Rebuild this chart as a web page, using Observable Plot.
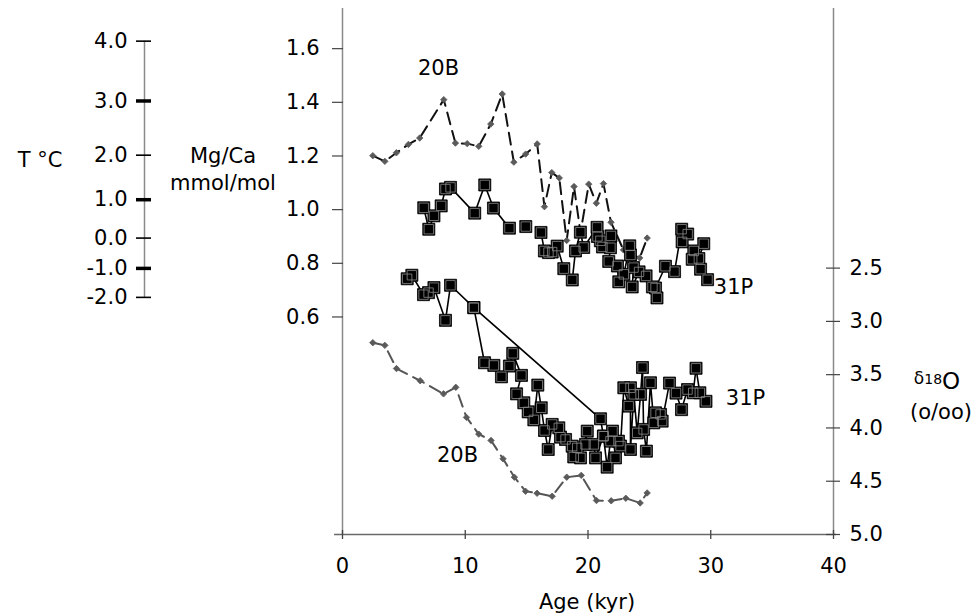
<!DOCTYPE html>
<html>
<head>
<meta charset="utf-8">
<script src="https://cdn.jsdelivr.net/npm/d3@7"></script>
<script src="https://cdn.jsdelivr.net/npm/@observablehq/plot@0.6"></script>
<style>
  body { margin: 0; background: #fff; }
  svg { display: block; }
</style>
</head>
<body>
<div id="chart"></div>
<script>
// ---------------- DATA ----------------
// Mg/Ca (mmol/mol), core 20B
const mg20B_age = [2.47,3.45,4.39,5.37,6.29,8.25,9.20,10.16,11.10,12.08,13.01,13.96,14.92,15.86,16.45,17.05,17.66,18.26,18.86,19.39,20.06,20.68,21.26,21.87,22.89,24.21,24.82];
const mg20B_val = [1.201,1.180,1.212,1.243,1.267,1.410,1.248,1.246,1.236,1.319,1.431,1.177,1.207,1.245,1.011,1.138,1.118,0.885,1.086,0.914,1.095,1.024,1.097,0.953,0.850,0.820,0.894];

// Mg/Ca (mmol/mol), core 31P (null = break in the line)
const mg31P_age = [6.62,7.03,7.45,8.04,8.39,8.80,10.77,11.59,12.30,13.60,null,14.93,null,16.17,16.45,16.78,17.08,17.49,18.03,18.72,18.98,19.38,19.65,20.74,20.77,21.01,21.18,21.87,21.83,21.69,22.40,22.51,22.92,23.40,23.46,23.71,23.60,24.16,24.73,25.25,25.62,25.50,26.31,27.05,27.63,28.12,27.67,28.62,28.49,29.43,29.03,29.17,29.74];
const mg31P_val = [1.007,0.927,0.977,1.014,1.077,1.083,0.987,1.092,1.006,0.931,null,0.937,null,0.915,0.846,0.840,0.842,0.864,0.780,0.738,0.846,0.916,0.859,0.934,0.900,0.884,0.861,0.902,0.858,0.807,0.790,0.731,0.759,0.865,0.831,0.784,0.712,0.768,0.753,0.712,0.671,0.708,0.789,0.769,0.927,0.909,0.880,0.846,0.815,0.873,0.818,0.778,0.739];

// delta18O (o/oo), core 31P (null = break in the line)
const d31P_age = [5.27,5.65,6.60,7.01,7.45,8.39,8.80,10.70,21.02,21.26,21.56,21.83,22.00,22.24,22.48,22.65,22.92,23.32,23.46,23.46,23.73,24.01,24.28,24.44,24.53,24.76,25.09,25.36,25.50,25.91,26.04,26.64,27.17,27.62,28.11,28.57,28.80,29.11,29.61,null,
  10.70,11.57,12.33,12.95,13.60,13.87,14.58,14.18,14.77,15.13,15.59,15.91,16.19,16.46,16.76,17.08,17.62,17.76,18.17,18.71,18.84,19.12,19.39,19.94,19.80,20.47,20.61,21.26];
const d31P_val = [2.600,2.567,2.749,2.730,2.683,2.990,2.661,2.871,3.914,4.077,4.368,4.124,4.030,4.281,4.124,4.170,3.623,3.795,3.623,4.202,3.685,4.046,3.685,3.433,4.014,4.218,3.576,3.952,3.858,3.873,3.936,3.579,3.673,3.828,3.640,3.670,3.440,3.670,3.750,null,
  2.871,3.388,3.413,3.520,3.419,3.300,3.507,3.680,3.764,3.849,3.924,3.598,3.811,4.024,4.202,3.967,3.999,4.086,4.108,4.171,4.272,4.187,4.281,4.030,4.155,4.155,4.281,4.077];

// delta18O (o/oo), core 20B
const d20B_age = [2.47,3.45,4.40,6.33,8.23,9.23,10.10,11.10,12.10,13.08,14.00,14.91,15.85,17.08,18.27,19.45,20.69,21.89,23.08,24.25,24.82];
const d20B_val = [3.200,3.225,3.443,3.557,3.680,3.619,3.901,4.058,4.117,4.290,4.462,4.594,4.613,4.641,4.462,4.445,4.681,4.684,4.660,4.704,4.610];

// axes ticks
const xTicks = [0, 10, 20, 30, 40];
const mgTicks = [0.6, 0.8, 1.0, 1.2, 1.4, 1.6];
const d18Ticks = [2.5, 3.0, 3.5, 4.0, 4.5, 5.0];
const tLabels = ["4.0", "3.0", "2.0", "1.0", "0.0", "-1.0", "-2.0"];
const tMgPos  = [1.628, 1.405, 1.203, 1.037, 0.894, 0.781, 0.673];  // Mg/Ca equivalent of each T tick
const tBold   = [false, true, false, true, false, true, false];

// series labels
const seriesLabels = [
  {text: "20B", x: 7.82, mg: 1.526},
  {text: "31P", x: 31.85, mg: 0.712},
  {text: "20B", x: 9.37, d18: 4.256},
  {text: "31P", x: 32.83, d18: 3.72}
];

// ---------------- CHART ----------------
const FONT = "DejaVu Sans, sans-serif";
const FS = 21;
const yDom = [-0.2108, 1.7497];
// map delta18O values onto the Mg/Ca vertical scale (secondary right axis)
const d2y = d3.scaleLinear().domain([5.0, 2.5]).range([-0.2108, 0.7821]);

const rows = (ages, vals, conv = v => v) =>
  ages.map((a, i) => ({x: a, y: vals[i] == null ? null : conv(vals[i])}));

const mg20B = rows(mg20B_age, mg20B_val);
const mg31P = rows(mg31P_age, mg31P_val);
const d31P = rows(d31P_age, d31P_val, d2y);
const d20B = rows(d20B_age, d20B_val, d2y);
const tTicks = tLabels.map((l, i) => ({label: l, y: tMgPos[i], bold: tBold[i]}));
const labs = seriesLabels.map(d => ({text: d.text, x: d.x, y: d.mg != null ? d.mg : d2y(d.d18)}));

const squares = data => [
  Plot.dot(data, {x: "x", y: "y", symbol: "square", r: 6.8, fill: "#000", stroke: "#000", strokeWidth: 0.8}),
  Plot.dot(data, {x: "x", y: "y", symbol: "square", r: 5.3, fill: "none", stroke: "#8c8c8c", strokeWidth: 0.8})
];

const svg = Plot.plot({
  width: 976, height: 616,
  marginLeft: 342, marginRight: 143, marginTop: 8, marginBottom: 82,
  x: {domain: [0, 40], axis: null},
  y: {domain: yDom, axis: null},
  style: {fontFamily: FONT, background: "#fff", color: "#000"},
  marks: [
    // frame axis lines
    Plot.ruleX([0, 40], {stroke: "#8a8a8a", strokeWidth: 1.5}),
    Plot.ruleY([yDom[0]], {x1: -0.65, x2: 40.25, stroke: "#6a6a6a", strokeWidth: 1.5}),

    // x axis
    Plot.ruleX(xTicks, {y1: yDom[0], y2: yDom[0], insetTop: -4, insetBottom: -5, stroke: "#444", strokeWidth: 1.3}),
    Plot.text(xTicks, {x: d => d, y: () => yDom[0], dy: 32, text: d => String(d), fontSize: FS, fill: "#000"}),

    // left Mg/Ca axis
    Plot.ruleY(mgTicks, {y: d => d, x1: () => 0, x2: () => 0, insetLeft: -10, insetRight: -1, stroke: "#444", strokeWidth: 1.2}),
    Plot.text(mgTicks, {x: () => 0, y: d => d, dx: -23, text: d => d.toFixed(1), textAnchor: "end", fontSize: FS, fill: "#000"}),

    // right delta18O axis
    Plot.ruleY(d18Ticks, {y: d => d2y(d), x1: () => 40, x2: () => 40, insetLeft: -7, insetRight: -7, stroke: "#444", strokeWidth: 1.2}),
    Plot.text(d18Ticks, {x: () => 40, y: d => d2y(d), dx: 16, text: d => d.toFixed(1), textAnchor: "start", fontSize: FS, fill: "#000"}),

    // temperature axis (far left)
    Plot.ruleX([0], {y1: tMgPos[tMgPos.length - 1], y2: tMgPos[0], dx: -198, stroke: "#8a8a8a", strokeWidth: 1.5}),
    Plot.ruleY(tTicks, {y: "y", x1: () => 0, x2: () => 0, insetLeft: -206, insetRight: 191, stroke: "#000", strokeWidth: d => d.bold ? 3.5 : 1.6}),
    Plot.text(tTicks, {x: () => 0, y: "y", dx: -215, text: "label", textAnchor: "end", fontSize: FS, fill: "#000"}),

    // Mg/Ca 20B
    Plot.line(mg20B, {x: "x", y: "y", stroke: "#111", strokeWidth: 2, strokeDasharray: "12,7"}),
    Plot.dot(mg20B, {x: "x", y: "y", symbol: "diamond2", r: 2.9, fill: "#5a5a5a", stroke: "#5a5a5a", strokeWidth: 0.8}),

    // Mg/Ca 31P
    Plot.line(mg31P, {x: "x", y: "y", stroke: "#000", strokeWidth: 1.6}),
    ...squares(mg31P),

    // delta18O 31P
    Plot.line(d31P, {x: "x", y: "y", stroke: "#000", strokeWidth: 1.6}),
    ...squares(d31P),

    // delta18O 20B
    Plot.line(d20B, {x: "x", y: "y", stroke: "#555", strokeWidth: 2, strokeDasharray: "12,7"}),
    Plot.dot(d20B, {x: "x", y: "y", symbol: "diamond2", r: 2.9, fill: "#5a5a5a", stroke: "#5a5a5a", strokeWidth: 0.8}),

    // series labels
    Plot.text(labs, {x: "x", y: "y", text: "text", fontSize: FS, fill: "#000"})
  ]
});

const s = d3.select(svg);
const addText = (x, y, txt, size, anchor = "middle") =>
  s.append("text").attr("x", x).attr("y", y).attr("text-anchor", anchor)
   .attr("font-family", FONT).attr("font-size", size).attr("fill", "#000").text(txt);

addText(40, 167, "T \u00B0C", FS);
addText(223, 163, "Mg/Ca", FS);
addText(223, 190, "mmol/mol", FS);
addText(587, 609, "Age (kyr)", FS);
addText(941, 419, "(o/oo)", FS);
const dl = s.append("text").attr("x", 937).attr("y", 389).attr("text-anchor", "middle")
  .attr("font-family", FONT).attr("fill", "#000");
dl.append("tspan").attr("font-size", 17).attr("dy", -5).text("\u03B4");
dl.append("tspan").attr("font-size", 14).attr("dy", 0).text("18");
dl.append("tspan").attr("font-size", 23).attr("dy", 5).text("O");

document.getElementById("chart").appendChild(svg);
</script>
</body>
</html>
